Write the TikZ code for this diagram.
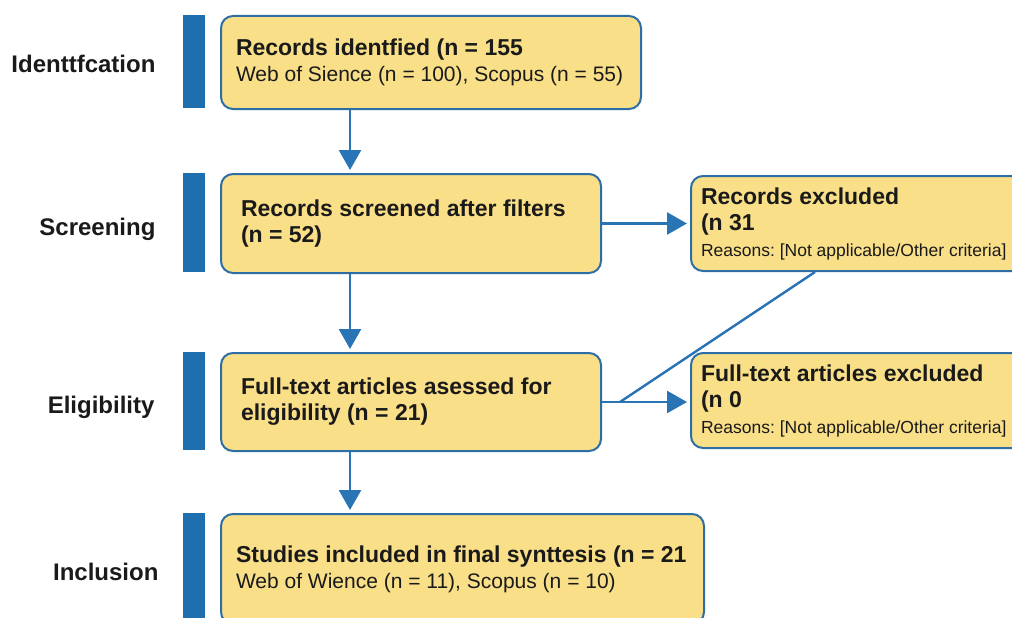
\documentclass[tikz,border=0pt]{standalone}
\usepackage{fontspec}
\setmainfont{Liberation Sans}
\usetikzlibrary{arrows.meta,calc,positioning}
\definecolor{boxfill}{HTML}{F9DF88}
\definecolor{boxline}{HTML}{2F6EA5}
\definecolor{barblue}{HTML}{1F6FAE}
\definecolor{flowblue}{HTML}{2874B4}
\definecolor{inktext}{HTML}{1A1A1A}
\newcommand{\headline}[1]{{\fontsize{23}{26}\selectfont\bfseries #1}}

\begin{document}
\begin{tikzpicture}[x=1pt,y=-1pt,
  stage/.style={text=inktext,font=\fontsize{24}{28}\selectfont\bfseries},
  stagebar/.style={fill=barblue,anchor=north west,minimum width=22pt,inner sep=0pt},
  flowbox/.style={draw=boxline,fill=boxfill,line width=2pt,rounded corners=12pt,anchor=north west,align=flush left,inner xsep=20pt,inner ysep=0pt,text=inktext,font=\fontsize{21}{26}\selectfont\frenchspacing},
  sidebox/.style={flowbox,inner xsep=10pt},
  flow/.style={draw=flowblue,line width=2.6pt,-{Triangle[width=22pt,length=20pt]}}]
  \useasboundingbox (0,0) rectangle (1012,618);
  \clip (0,0) rectangle (1012,618);
  \fill[white] (0,0) rectangle (1012,618);

  %stage bars
  \node[stagebar,minimum height=93pt] (bar1) at (183,15) {};
  \node[stagebar,minimum height=99pt] (bar2) at (183,173) {};
  \node[stagebar,minimum height=98pt] (bar3) at (183,352) {};
  \node[stagebar,minimum height=110pt] (bar4) at (183,513) {};
  \node[stage,left=24pt of bar1.west,yshift=-2pt] (lab1) {Identtfcation};
  \node[stage,left=24pt of bar2.west,yshift=-7pt] (lab2) {Screening};
  \node[stage,left=25pt of bar3.west,yshift=-6pt] (lab3) {Eligibility};
  \node[stage,left=21pt of bar4.west,yshift=-4pt] (lab4) {Inclusion};

  %main column
  \node[flowbox,inner xsep=15pt,text width=390pt,minimum height=93pt] (b1) at (220,15) {\headline{Records identfied (n = 155}\\Web of Sience (n = 100), Scopus (n = 55)};
  \node[flowbox,text width=340pt,minimum height=99pt] (b2) at (220,173) {\headline{Records screened after filters}\\\headline{(n = 52)}};
  \node[flowbox,text width=340pt,minimum height=98pt] (b3) at (220,352) {\headline{Full-text articles asessed for}\\\headline{eligibility (n = 21)}};
  \node[flowbox,inner xsep=15pt,text width=453pt,minimum height=110pt] (b4) at (220,513) {\headline{Studies included in final synttesis (n = 21}\\Web of Wience (n = 11), Scopus (n = 10)};

  %exclusions
  \node[sidebox,text width=315pt,minimum height=95pt] (r1) at (690,175) {\headline{Records excluded}\\\headline{(n 31}\\{\fontsize{17.5}{26}\selectfont Reasons: [Not applicable/Other criteria]}};
  \node[sidebox,text width=315pt,minimum height=95pt] (r2) at (690,352) {\headline{Full-text articles excluded}\\\headline{(n 0}\\{\fontsize{17.5}{26}\selectfont Reasons: [Not applicable/Other criteria]}};

  %connectors
  \coordinate (spine) at (350,0);
  \coordinate (split) at ($(b3.east)+(18,0)$);
  \coordinate (kink) at (815,0);
  \draw[flow,shorten >=3pt] (spine |- b1.south) -- (spine |- b2.north);
  \draw[flow,shorten >=3pt] (spine |- b2.south) -- (spine |- b3.north);
  \draw[flow,shorten >=3pt] (spine |- b3.south) -- (spine |- b4.north);
  \draw[flow,shorten >=3pt] (b2.east) -- (b2.east -| r1.west);
  \draw[flow,shorten >=3pt] (b3.east) -- (b3.east -| r2.west);
  \draw[flowblue,line width=2.4pt] (split) -- (kink |- r1.south);
\end{tikzpicture}
\end{document}
